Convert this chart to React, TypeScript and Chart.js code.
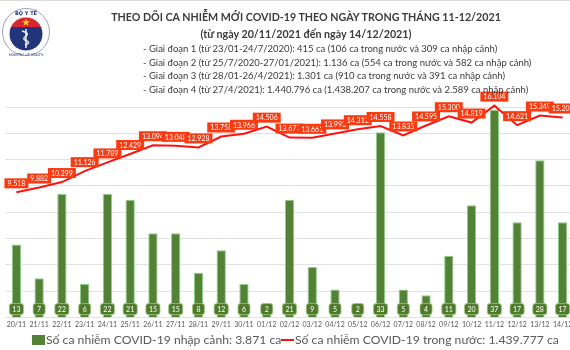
import React, { useEffect, useRef } from "react";
import { Chart, registerables } from "chart.js";

Chart.register(...registerables);

const categories = [
  "20/11", "21/11", "22/11", "23/11", "24/11", "25/11", "26/11", "27/11", "28/11", "29/11",
  "30/11", "01/12", "02/12", "03/12", "04/12", "05/12", "06/12", "07/12", "08/12", "09/12",
  "10/12", "11/12", "12/12", "13/12", "14/12",
];
const importedCases = [13, 7, 22, 6, 22, 21, 15, 15, 8, 12, 6, 2, 21, 9, 5, 2, 33, 5, 4, 11, 20, 37, 17, 28, 17];
const domesticCases = [
  9518, 9882, 10299, 11126, 11789, 12429, 13094, 13048, 12928, 13758, 13966, 14506, 13677,
  13661, 13993, 14312, 14558, 13835, 14595, 15300, 14819, 16104, 14621, 15349, 15203,
];
const lineAxisMin = 0;
const lineAxisMax = 16000;
const lineAxisStep = 2000;
const barAxisMax = 37.5;

const importedLabel = "Số ca nhiễm COVID-19 nhập cảnh: 3.871 ca";
const domesticLabel = "Số ca nhiễm COVID-19 trong nước: 1.439.777 ca";
const titleLine1 = "THEO DÕI CA NHIỄM MỚI COVID-19 THEO NGÀY TRONG THÁNG 11-12/2021";
const titleLine2 = "(từ ngày 20/11/2021 đến ngày 14/12/2021)";
const phases = [
  "- Giai đoạn 1 (từ 23/01-24/7/2020): 415 ca (106 ca trong nước và 309 ca nhập cảnh)",
  "- Giai đoạn 2 (từ 25/7/2020-27/01/2021): 1.136 ca (554 ca trong nước và 582 ca nhập cảnh)",
  "- Giai đoạn 3 (từ 28/01-26/4/2021): 1.301 ca (910 ca trong nước và 391 ca nhập cảnh)",
  "- Giai đoạn 4 (từ 27/4/2021): 1.440.796 ca (1.438.207 ca trong nước và 2.589 ca nhập cảnh)",
];

const fmt = (n: number) => String(n).replace(/\B(?=(\d{3})+(?!\d))/g, ".");

function roundRect(ctx: CanvasRenderingContext2D, x: number, y: number, w: number, h: number, r: number) {
  ctx.beginPath();
  ctx.moveTo(x + r, y);
  ctx.lineTo(x + w - r, y);
  ctx.quadraticCurveTo(x + w, y, x + w, y + r);
  ctx.lineTo(x + w, y + h - r);
  ctx.quadraticCurveTo(x + w, y + h, x + w - r, y + h);
  ctx.lineTo(x + r, y + h);
  ctx.quadraticCurveTo(x, y + h, x, y + h - r);
  ctx.lineTo(x, y + r);
  ctx.quadraticCurveTo(x, y, x + r, y);
  ctx.closePath();
}

const valueLabels = {
  id: "valueLabels",
  afterDatasetsDraw(chart: any) {
    const ctx: CanvasRenderingContext2D = chart.ctx;
    ctx.save();
    ctx.font = "7px Lato";
    ctx.textAlign = "center";
    ctx.textBaseline = "middle";
    const barMeta = chart.getDatasetMeta(0);
    barMeta.data.forEach((el: any, i: number) => {
      const txt = String(importedCases[i]);
      const w = Math.max(ctx.measureText(txt).width + 6, 12);
      const h = 11;
      const cx = el.x;
      const cy = el.base - 8.5;
      roundRect(ctx, cx - w / 2, cy - h / 2, w, h, 2.5);
      ctx.fillStyle = "#4f7a2c";
      ctx.fill();
      ctx.strokeStyle = "#9cc97e";
      ctx.lineWidth = 0.8;
      ctx.stroke();
      ctx.fillStyle = "#ffffff";
      ctx.fillText(txt, cx, cy + 0.5);
    });
    const lineMeta = chart.getDatasetMeta(1);
    lineMeta.data.forEach((el: any, i: number) => {
      const txt = fmt(domesticCases[i]);
      const w = ctx.measureText(txt).width + 6;
      const h = 10;
      const cx = el.x;
      const cy = el.y - 9;
      ctx.fillStyle = "#fa3a10";
      ctx.fillRect(cx - w / 2, cy - h / 2, w, h);
      ctx.fillStyle = "#ffffff";
      ctx.fillText(txt, cx, cy + 0.5);
    });
    ctx.restore();
  },
};

function Logo() {
  return (
    <svg width="54" height="58" viewBox="0 0 54 58" style={{ position: "absolute", left: 0, top: 4 }}>
      <circle cx="26" cy="28" r="23.5" fill="#ffffff" stroke="#9aa3c0" strokeWidth="1" />
      <text x="26" y="11" textAnchor="middle" fontSize="5" fontWeight="bold" fill="#22357a" fontFamily="DejaVu Sans">BỘ Y TẾ</text>
      <clipPath id="inner">
        <circle cx="26" cy="30" r="17" />
      </clipPath>
      <g clipPath="url(#inner)">
        <rect x="0" y="0" width="54" height="58" fill="#22357a" />
        <rect x="0" y="0" width="54" height="23" fill="#d8262e" />
      </g>
      <circle cx="26" cy="30" r="17" fill="none" stroke="#ffffff" strokeWidth="1" />
      <polygon points="26,14.5 27,17.3 30,17.3 27.6,19 28.5,21.8 26,20.1 23.5,21.8 24.4,19 22,17.3 25,17.3" fill="#ffd21f" />
      <line x1="26" y1="25" x2="26" y2="44" stroke="#ffffff" strokeWidth="1.4" />
      <path d="M22 27 Q30 29 26 32 Q21 35 27 37 Q31 39 25 41" fill="none" stroke="#ffffff" strokeWidth="1.3" />
      <text x="26" y="52" textAnchor="middle" fontSize="3.3" fill="#22357a" fontFamily="DejaVu Sans">MINISTRY OF HEALTH</text>
    </svg>
  );
}

export default function App() {
  const canvasRef = useRef<HTMLCanvasElement | null>(null);

  useEffect(() => {
    if (!canvasRef.current) return;
    const chart = new Chart(canvasRef.current, {
      type: "bar",
      data: {
        labels: categories,
        datasets: [
          {
            type: "bar",
            label: importedLabel,
            data: importedCases,
            backgroundColor: "#538135",
            borderColor: "#8fd08a",
            borderWidth: 1,
            categoryPercentage: 1,
            barPercentage: 0.41,
            yAxisID: "yBar",
            order: 2,
          },
          {
            type: "line",
            label: domesticLabel,
            data: domesticCases,
            borderColor: "#ff1010",
            borderWidth: 2,
            pointRadius: 0,
            tension: 0,
            fill: false,
            yAxisID: "y",
            clip: false,
            order: 1,
          } as any,
        ],
      },
      options: {
        responsive: false,
        animation: false,
        devicePixelRatio: 1,
        layout: { padding: { left: 5, right: 6, top: 107, bottom: 18 } },
        plugins: { legend: { display: false }, tooltip: { enabled: false }, title: { display: false } },
        scales: {
          x: {
            grid: { display: false, drawTicks: false },
            border: { display: false },
            ticks: {
              font: { family: "Lato", size: 7 },
              color: "#595959",
              padding: 3,
              maxRotation: 0,
              autoSkip: false,
            },
          },
          y: {
            position: "left",
            min: lineAxisMin,
            max: lineAxisMax,
            ticks: { display: false, stepSize: lineAxisStep },
            grid: { color: "#e2e2e2", lineWidth: 1, drawTicks: false },
            border: { display: false },
          },
          yBar: {
            display: false,
            min: 0,
            max: barAxisMax,
          },
        },
      },
      plugins: [valueLabels],
    });
    return () => chart.destroy();
  }, []);

  const wrap: React.CSSProperties = {
    position: "fixed",
    left: 0,
    top: 0,
    width: 570,
    height: 350,
    overflow: "hidden",
    background: "#ffffff",
    fontFamily: "Lato, sans-serif",
  };

  return (
    <div style={wrap}>
      <canvas ref={canvasRef} width={580} height={350} style={{ position: "absolute", left: 0, top: 0, width: 580, height: 350 }} />
      <div style={{ position: "absolute", left: 0, top: 0, width: 570, height: 1, background: "#dcdcdc" }} />
      <Logo />
      <div style={{ position: "absolute", left: 36, top: 8, width: 540, textAlign: "center", fontWeight: 700, fontSize: 10.7, color: "#3b3b3b", lineHeight: "17px", whiteSpace: "nowrap" }}>
        <div>{titleLine1}</div>
        <div>{titleLine2}</div>
      </div>
      <div style={{ position: "absolute", left: 143, top: 42, fontSize: 9.5, color: "#3b3b3b", lineHeight: "13.5px", whiteSpace: "nowrap" }}>
        {phases.map((p, i) => (
          <div key={i}>{p}</div>
        ))}
      </div>
      <div style={{ position: "absolute", left: 0, top: 331, width: 570, height: 18, fontFamily: "Lato, sans-serif", fontSize: 12.2, color: "#595959", whiteSpace: "nowrap" }}>
        <span style={{ position: "absolute", left: 32, top: 4, width: 13, height: 10, background: "#538135" }} />
        <span style={{ position: "absolute", left: 46, top: 0, lineHeight: "18px" }}>{importedLabel}</span>
        <span style={{ position: "absolute", left: 281, top: 8, width: 13, height: 2, background: "#ff1010" }} />
        <span style={{ position: "absolute", left: 295, top: 0, lineHeight: "18px" }}>{domesticLabel}</span>
      </div>
    </div>
  );
}
